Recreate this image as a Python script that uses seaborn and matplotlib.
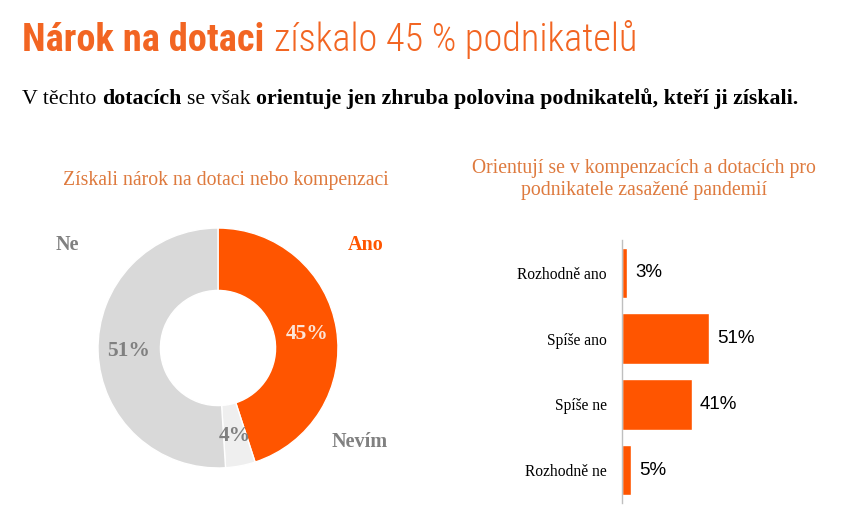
import matplotlib
matplotlib.use("Agg")
import matplotlib.pyplot as plt
from matplotlib import font_manager
import seaborn as sns
import pandas as pd

# donut: got a claim to a subsidy
donut_labels = ["Ano", "Nevím", "Ne"]
donut_values = [45, 4, 51]

# bars: orientation in subsidies
bar_categories = ["Rozhodně ano", "Spíše ano", "Spíše ne", "Rozhodně ne"]
bar_values = [3, 51, 41, 5]

ORANGE = "#FF5500"
TITLE_ORANGE = "#F26522"
SUB_ORANGE = "#DE7A3E"
GREY_TEXT = "#808080"
W, H = 851, 507


def draw_pieces(fig, x_px, y_px, pieces, target_w, base_size, gap_em=0.25):
    """Draw text pieces one after another on a baseline, fitted to a width."""
    renderer = fig.canvas.get_renderer()

    def layout(size):
        texts = []
        x = x_px
        for i, (txt, kw) in enumerate(pieces):
            if i > 0:
                x += gap_em * size * 100 / 72
            t = fig.text(x / W, 1 - y_px / H, txt, fontsize=size,
                         va="baseline", ha="left", **kw)
            x += t.get_window_extent(renderer).width
            texts.append(t)
        return texts, x - x_px

    texts, width = layout(base_size)
    for t in texts:
        t.remove()
    layout(base_size * target_w / width)


installed = {f.name for f in font_manager.fontManager.ttflist}
head_font = "Roboto Condensed" if "Roboto Condensed" in installed else "Roboto"

sns.set_theme(style="white")
fig = plt.figure(figsize=(W / 100, H / 100), dpi=100)
fig.patch.set_facecolor("white")

# headline
draw_pieces(fig, 22, 51, [
    ("Nárok na dotaci", dict(family=head_font, weight="bold", color=TITLE_ORANGE)),
    ("získalo 45 % podnikatelů", dict(family=head_font, weight="light", color=TITLE_ORANGE)),
], target_w=615, base_size=24)

serif = "Liberation Serif"
draw_pieces(fig, 22, 104, [
    ("V těchto", dict(family=serif, color="black")),
    ("dotacích", dict(family=serif, weight="bold", color="black")),
    ("se však", dict(family=serif, color="black")),
    ("orientuje jen zhruba polovina podnikatelů, kteří ji získali.",
     dict(family=serif, weight="bold", color="black")),
], target_w=778, base_size=14)

# donut
ax1 = fig.add_axes([(218 - 125) / W, (H - 348 - 125) / H, 250 / W, 250 / H])
wedges, _, autotexts = ax1.pie(
    donut_values,
    colors=[ORANGE, "#EFEFEF", "#D9D9D9"],
    startangle=90,
    counterclock=False,
    radius=1,
    wedgeprops=dict(width=0.52, edgecolor="white", linewidth=1),
    autopct=lambda p: f"{p:.0f}%",
    pctdistance=0.75,
    textprops=dict(family=serif, weight="bold", fontsize=15.5),
)
for t, c in zip(autotexts, ["#FCE4D6", GREY_TEXT, GREY_TEXT]):
    t.set_color(c)
ax1.set_xlim(-1.042, 1.042)
ax1.set_ylim(-1.042, 1.042)
ax1.set_aspect("equal")
ax1.axis("off")

label_pos = {"Ano": (1.23, 0.86), "Nevím": (1.18, -0.78), "Ne": (-1.26, 0.86)}
label_col = {"Ano": ORANGE, "Nevím": GREY_TEXT, "Ne": GREY_TEXT}
for name in donut_labels:
    x, y = label_pos[name]
    ax1.text(x, y, name, ha="center", va="center", family=serif,
             weight="bold", fontsize=14.5, color=label_col[name], clip_on=False)

fig.text(226 / W, 1 - 180 / H, "Získali nárok na dotaci nebo kompenzaci",
         ha="center", va="center", family=serif, fontsize=14.2, color=SUB_ORANGE)

# bars
ax2 = fig.add_axes([622 / W, 4 / H, 170 / W, 263 / H])
bar_df = pd.DataFrame({"kategorie": bar_categories, "podil": bar_values})
sns.barplot(data=bar_df, x="podil", y="kategorie", orient="h",
            color=ORANGE, saturation=1, width=0.77, ax=ax2)
ax2.set_xlim(0, 100)
ax2.set_xlabel("")
ax2.set_ylabel("")
ax2.set_xticks([])
for side in ["top", "right", "bottom"]:
    ax2.spines[side].set_visible(False)
ax2.spines["left"].set_color("#BFBFBF")
ax2.spines["left"].set_linewidth(1)
ax2.tick_params(axis="y", length=0, pad=11)
for lab in ax2.get_yticklabels():
    lab.set_family(serif)
    lab.set_fontsize(11.2)
    lab.set_color("black")
ax2.bar_label(ax2.containers[0], labels=[f"{v}%" for v in bar_values],
              padding=6, family="Liberation Sans", fontsize=13.5, color="black")
ax2.set_facecolor("none")

fig.text(644 / W, 1 - 168 / H, "Orientují se v kompenzacích a dotacích pro",
         ha="center", va="center", family=serif, fontsize=14.2, color=SUB_ORANGE)
fig.text(644 / W, 1 - 191 / H, "podnikatele zasažené pandemií",
         ha="center", va="center", family=serif, fontsize=14.2, color=SUB_ORANGE)

fig.savefig("out.png", dpi=100, facecolor="white")
